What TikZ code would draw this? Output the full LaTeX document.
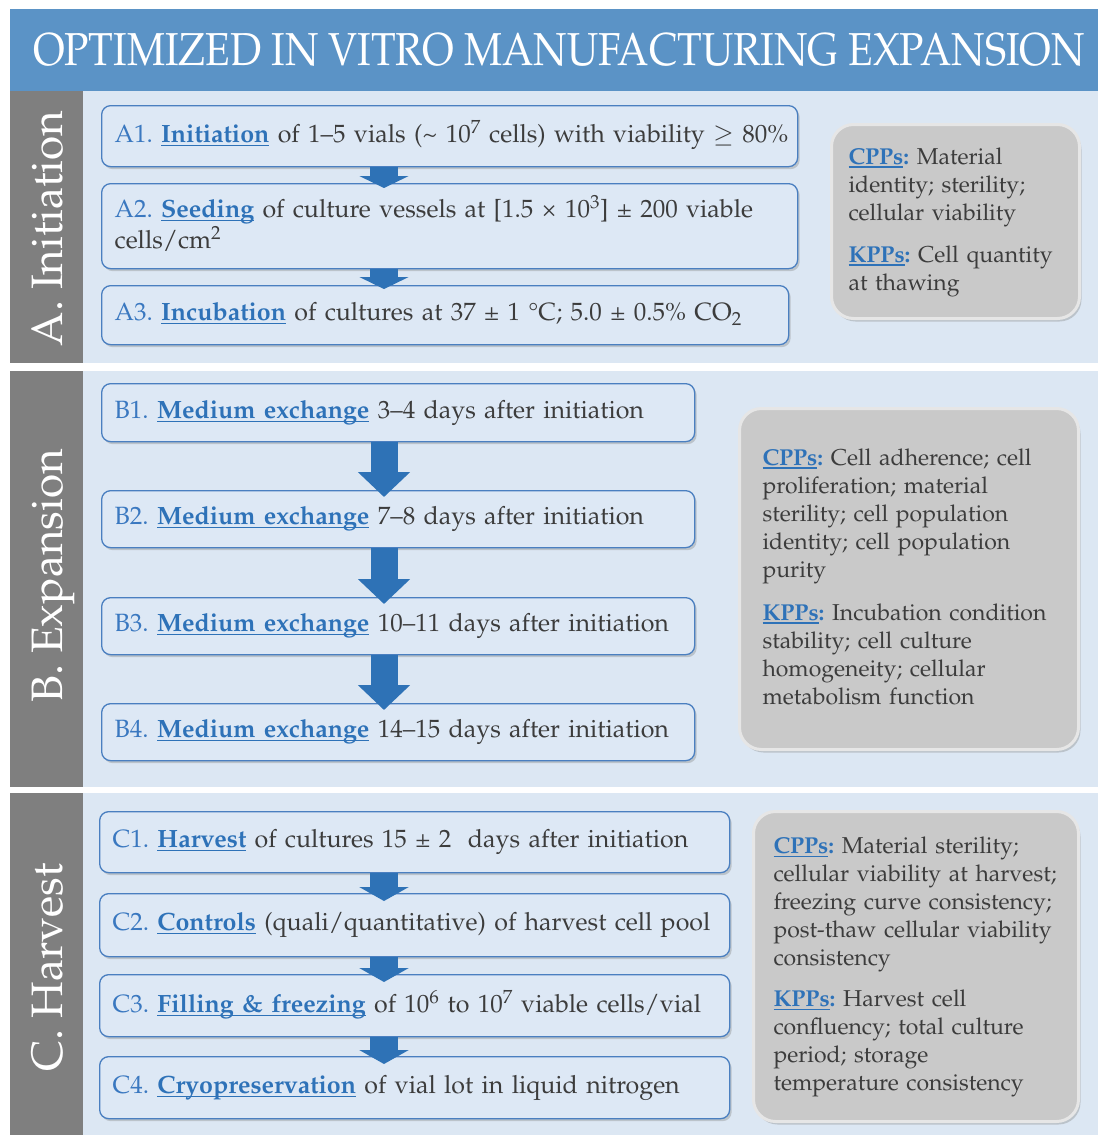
\documentclass[tikz,border=0pt]{standalone}
\usepackage[T1]{fontenc}
\usepackage{mathpazo}
\usetikzlibrary{shadows,arrows.meta,calc}
\definecolor{titleblue}{HTML}{5B93C6}
\definecolor{secbg}{HTML}{DCE7F3}
\definecolor{strip}{HTML}{7F7F7F}
\definecolor{boxfill}{HTML}{DDE8F5}
\definecolor{boxedge}{HTML}{4A7FC0}
\definecolor{kwblue}{HTML}{2E72B8}
\definecolor{lblblue}{HTML}{3A78C0}
\definecolor{arrowblue}{HTML}{2E72B6}
\definecolor{txt}{HTML}{3C3C3C}
\definecolor{grayfill}{HTML}{C9C9C9}
\definecolor{grayedge}{HTML}{E6E6E6}
\frenchspacing
\newsavebox\ulbox
\newcommand\myul[1]{\sbox\ulbox{#1}\rlap{\rule[-3.5pt]{\wd\ulbox}{1.3pt}}\usebox\ulbox}
\newcommand\kw[1]{\textcolor{kwblue}{\bfseries\myul{#1}}}
\newcommand\kwc[1]{\textcolor{kwblue}{\bfseries\myul{#1}:}}
\newcommand\lbl[1]{\textcolor{lblblue}{#1}}
\tikzset{
  stepbox/.style={draw=boxedge, line width=1.3pt, fill=boxfill, rounded corners=9pt,
    drop shadow={shadow xshift=2pt, shadow yshift=-2.5pt, opacity=0.35},
    anchor=north west, align=left, inner xsep=13pt, inner ysep=0pt,
    font=\fontsize{25}{29}\selectfont\frenchspacing, text=txt},
  infobox/.style={draw=grayedge, line width=3pt, fill=grayfill, rounded corners=22pt,
    drop shadow={shadow xshift=2pt, shadow yshift=-3pt, opacity=0.35},
    anchor=north west, align=left, inner ysep=0pt,
    font=\fontsize{23}{28}\selectfont\frenchspacing, text=txt},
  seclabel/.style={rotate=90, anchor=base, text=white, font=\fontsize{44}{44}\selectfont},
  smallarrow/.style={draw=arrowblue, line width=28pt, -{Triangle[width=49pt,length=12pt]}},
  bigarrow/.style={draw=arrowblue, line width=27pt, -{Triangle[width=51pt,length=25pt]}},
  cpparrow/.style={draw=arrowblue, line width=28pt, -{Triangle[width=49pt,length=14pt]}}
}
\newcommand\lines[1]{\begin{tabular}{@{}l@{}}#1\end{tabular}}
\begin{document}
\begin{tikzpicture}[x=1pt,y=-1pt]
\useasboundingbox (0,0) rectangle (1098,1135);
\fill[white] (0,0) rectangle (1098,1135);
% title
\fill[titleblue] (10,9) rectangle (1098,91);
\node[anchor=base, text=white, inner sep=0pt] (title) at (559,65)
  {\resizebox{1052pt}{32pt}{\fontsize{46}{46}\selectfont OPTIMIZED IN VITRO MANUFACTURING EXPANSION}};
% sections
\fill[secbg] (83,91) rectangle (1098,363);
\fill[strip] (10,91) rectangle (83,363);
\fill[secbg] (83,371) rectangle (1098,787);
\fill[strip] (10,371) rectangle (83,787);
\fill[secbg] (83,793) rectangle (1098,1135);
\fill[strip] (10,793) rectangle (83,1135);
\node[seclabel] (labA) at (62,228.5) {A. Initiation};
\node[seclabel] (labB) at (62,576) {B. Expansion};
\node[seclabel] (labC) at (62,967.5) {C. Harvest};
% section A
\node[stepbox, text width=670pt, minimum height=61pt] (a1) at (101,105)
  {\lines{\lbl{A1.} \kw{Initiation} of 1--5 vials (\textasciitilde{} 10\textsuperscript{7} cells) with viability $\geq$ 80\%}};
\node[stepbox, text width=670pt, minimum height=85pt] (a2) at (101,183)
  {\lines{\lbl{A2.} \kw{Seeding} of culture vessels at [1.5 \texttimes{} 10\textsuperscript{3}] \textpm{} 200 viable\\cells/cm\textsuperscript{2}}};
\node[stepbox, text width=661pt, minimum height=59pt] (a3) at (101,285)
  {\lines{\lbl{A3.} \kw{Incubation} of cultures at 37 \textpm{} 1 \textdegree C; 5.0 \textpm{} 0.5\% CO\textsubscript{2}}};
\node[infobox, text width=214pt, inner xsep=17pt, minimum height=194pt] (ga) at (830,123)
  {\lines{\kwc{CPPs} Material\\identity; sterility;\\cellular viability\\[14pt]\kwc{KPPs} Cell quantity\\at thawing}};
% section B
\node[stepbox, text width=567pt, minimum height=58pt] (b1) at (101,383)
  {\lines{\lbl{B1.} \kw{Medium exchange} 3--4 days after initiation}};
\node[stepbox, text width=567pt, minimum height=57pt] (b2) at (101,490)
  {\lines{\lbl{B2.} \kw{Medium exchange} 7--8 days after initiation}};
\node[stepbox, text width=567pt, minimum height=57pt] (b3) at (101,597)
  {\lines{\lbl{B3.} \kw{Medium exchange} 10--11 days after initiation}};
\node[stepbox, text width=567pt, minimum height=57pt] (b4) at (101,703)
  {\lines{\lbl{B4.} \kw{Medium exchange} 14--15 days after initiation}};
\node[infobox, text width=293pt, inner xsep=23pt, minimum height=341pt] (gb) at (738,407)
  {\lines{\kwc{CPPs} Cell adherence; cell\\proliferation; material\\sterility; cell population\\identity; cell population\\purity\\[15pt]\kwc{KPPs} Incubation condition\\stability; cell culture\\homogeneity; cellular\\metabolism function}};
% section C
\node[stepbox, text width=604pt, minimum height=61pt] (c1) at (99,811)
  {\lines{\lbl{C1.} \kw{Harvest} of cultures 15 \textpm{} 2\ \ days after initiation}};
\node[stepbox, text width=604pt, minimum height=63pt] (c2) at (99,893)
  {\lines{\lbl{C2.} \kw{Controls} (quali/quantitative) of harvest cell pool}};
\node[stepbox, text width=604pt, minimum height=62pt] (c3) at (99,974)
  {\lines{\lbl{C3.} \kw{Filling \& freezing} of 10\textsuperscript{6} to 10\textsuperscript{7} viable cells/vial}};
\node[stepbox, text width=604pt, minimum height=62pt] (c4) at (99,1056)
  {\lines{\lbl{C4.} \kw{Cryopreservation} of vial lot in liquid nitrogen}};
\node[infobox, text width=285pt, inner xsep=20pt, minimum height=310pt] (gc) at (752,810)
  {\lines{\kwc{CPPs} Material sterility;\\cellular viability at harvest;\\freezing curve consistency;\\post-thaw cellular viability\\consistency\\[13pt]\kwc{KPPs} Harvest cell\\confluency; total culture\\period; storage\\temperature consistency}};
% arrows
\coordinate (ax) at (384,0);
\draw[smallarrow] (ax |- a1.south) -- ($(ax |- a2.north)+(0,5)$);
\draw[smallarrow] (ax |- a2.south) -- ($(ax |- a3.north)+(0,4)$);
\draw[bigarrow] (ax |- b1.south) -- ($(ax |- b2.north)+(0,7)$);
\draw[bigarrow] (ax |- b2.south) -- ($(ax |- b3.north)+(0,7)$);
\draw[bigarrow] (ax |- b3.south) -- ($(ax |- b4.north)+(0,7)$);
\draw[cpparrow] (ax |- c1.south) -- ($(ax |- c2.north)+(0,8)$);
\draw[cpparrow] (ax |- c2.south) -- ($(ax |- c3.north)+(0,8)$);
\draw[cpparrow] (ax |- c3.south) -- ($(ax |- c4.north)+(0,8)$);
\end{tikzpicture}
\end{document}
